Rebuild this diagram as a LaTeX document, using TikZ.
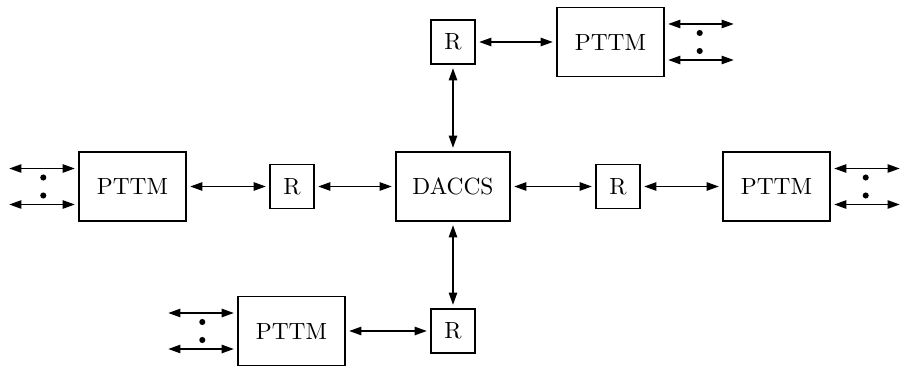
\documentclass[tikz,border=0pt]{standalone}
\usetikzlibrary{arrows.meta,calc}

\tikzset{
  unit/.style={draw, line width=0.6pt, inner sep=0pt, minimum width=1.605cm, minimum height=1.035cm},
  rnode/.style={draw, line width=0.6pt, inner sep=0pt, minimum size=0.66cm},
  link/.style={<->, line width=0.6pt, shorten <=1.5pt, shorten >=1.5pt},
}

\begin{document}
\begin{tikzpicture}[x=0.015cm, y=-0.015cm, >={Triangle[length=5.2pt,width=3.6pt]}]
	\useasboundingbox (0,0) rectangle (902,367);
	% central unit and the four repeaters
	\node[unit, minimum width=1.71cm] (daccs) at (453,186.5) {DACCS};
	\node[rnode] (rl) at (292,186.5) {R};
	\node[rnode] (rr) at (618,186.5) {R};
	\node[rnode] (rt) at (453,42) {R};
	\node[rnode] (rb) at (453,331) {R};
	% terminal multiplexers
	\node[unit] (pl) at (132.5,186.5) {PTTM};
	\node[unit] (pr) at (776.5,186.5) {PTTM};
	\node[unit] (pt) at (610.5,42) {PTTM};
	\node[unit] (pb) at (291.5,331) {PTTM};
	% trunk links
	\draw[link] (daccs) -- (rl);
	\draw[link] (daccs) -- (rr);
	\draw[link] (daccs) -- (rt);
	\draw[link] (daccs) -- (rb);
	\draw[link] (rl) -- (pl);
	\draw[link] (rr) -- (pr);
	\draw[link] (rt) -- (pt);
	\draw[link] (rb) -- (pb);
	% subscriber lines with dots between them
	\foreach \p/\a/\d in {pl/west/-1, pr/east/1, pt/east/1, pb/west/-1} {
		\foreach \s in {-18,18}
			\draw[link, shorten >=0pt] ($(\p.\a)+(0,\s)$) -- ++(\d*69,0);
		\foreach \s in {-9,9}
			\fill ($(\p.\a)+(\d*35,\s)$) circle (1.3pt);
	}
\end{tikzpicture}
\end{document}
